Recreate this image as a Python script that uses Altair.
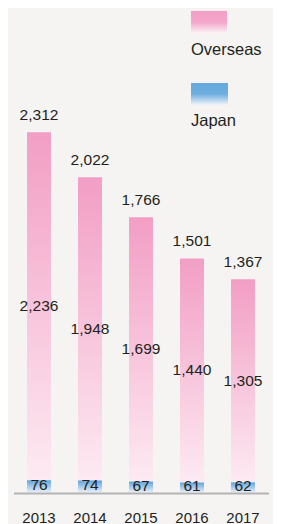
import altair as alt
import pandas as pd

years = ["2013", "2014", "2015", "2016", "2017"]
overseas = [2236, 1948, 1699, 1440, 1305]
japan = [76, 74, 67, 61, 62]
legend_labels = ["Overseas", "Japan"]

totals = [o + j for o, j in zip(overseas, japan)]
df = pd.DataFrame({"year": years, "overseas": overseas, "japan": japan, "total": totals})
df["zero"] = 0
df["mid_o"] = (df["japan"] + df["total"]) / 2
df["mid_j"] = df["japan"] / 2

FONT = "Liberation Sans"
TXT = "#231f20"

pink = alt.Gradient(
    gradient="linear",
    stops=[alt.GradientStop(color="#f29ec4", offset=0),
           alt.GradientStop(color="#fdeaf2", offset=1)],
    x1=0, x2=0, y1=0, y2=1,
)
blue = alt.Gradient(
    gradient="linear",
    stops=[alt.GradientStop(color="#5ea4dc", offset=0),
           alt.GradientStop(color="#e2ecf8", offset=1)],
    x1=0, x2=0, y1=0, y2=1,
)
pink_sw = alt.Gradient(
    gradient="linear",
    stops=[alt.GradientStop(color="#f29ec4", offset=0),
           alt.GradientStop(color="#f3a6c9", offset=0.5),
           alt.GradientStop(color="#fbf1f5", offset=1)],
    x1=0, x2=0, y1=0, y2=1,
)
blue_sw = alt.Gradient(
    gradient="linear",
    stops=[alt.GradientStop(color="#64a9de", offset=0),
           alt.GradientStop(color="#6eaddf", offset=0.5),
           alt.GradientStop(color="#f1f4f8", offset=1)],
    x1=0, x2=0, y1=0, y2=1,
)

x = alt.X(
    "year:N",
    scale=alt.Scale(range=[5.5, 260.5], paddingInner=0.53, paddingOuter=0.265),
    axis=alt.Axis(title=None, domainColor="#b3b3b3", domainWidth=2, ticks=False,
                  labelAngle=0, labelFontSize=15, labelFont=FONT, labelColor=TXT,
                  labelPadding=17, offset=1, grid=False),
)
ys = alt.Scale(domain=[0, 3110])

base = alt.Chart(df)

bar_o = base.mark_bar(color=pink).encode(
    x=x, y=alt.Y("total:Q", scale=ys, axis=None), y2="japan:Q")
bar_j = base.mark_bar(color=blue).encode(
    x=x, y=alt.Y("japan:Q", scale=ys, axis=None), y2="zero:Q")

txt_kw = dict(font=FONT, fontSize=15.5, color=TXT)
t_total = base.mark_text(dy=-12, baseline="alphabetic", **txt_kw).encode(
    x=x, y=alt.Y("total:Q", scale=ys), text=alt.Text("total:Q", format=","))
t_o = base.mark_text(baseline="middle", **txt_kw).encode(
    x=x, y=alt.Y("mid_o:Q", scale=ys), text=alt.Text("overseas:Q", format=","))
t_j = base.mark_text(baseline="middle", dy=-1, **txt_kw).encode(
    x=x, y=alt.Y("mid_j:Q", scale=ys), text=alt.Text("japan:Q", format=","))

one = alt.Chart(pd.DataFrame({"a": [0]}))
sw1 = one.mark_rect(color=pink_sw).encode(
    x=alt.value(183), x2=alt.value(219), y=alt.value(3), y2=alt.value(25))
sw2 = one.mark_rect(color=blue_sw).encode(
    x=alt.value(183), x2=alt.value(220), y=alt.value(75), y2=alt.value(97))
lt1 = one.mark_text(align="left", baseline="alphabetic", font=FONT, fontSize=16.5, color=TXT).encode(
    x=alt.value(183), y=alt.value(47), text=alt.value(legend_labels[0]))
lt2 = one.mark_text(align="left", baseline="alphabetic", font=FONT, fontSize=16.5, color=TXT).encode(
    x=alt.value(183), y=alt.value(118), text=alt.value(legend_labels[1]))

chart = alt.layer(bar_o, bar_j, t_total, t_o, t_j, sw1, sw2, lt1, lt2).properties(
    width=265, height=484, padding=0, background="#f5f4f2"
).configure_view(stroke=None)

chart.save("out.html", embed_options={"renderer": "svg", "actions": False})
